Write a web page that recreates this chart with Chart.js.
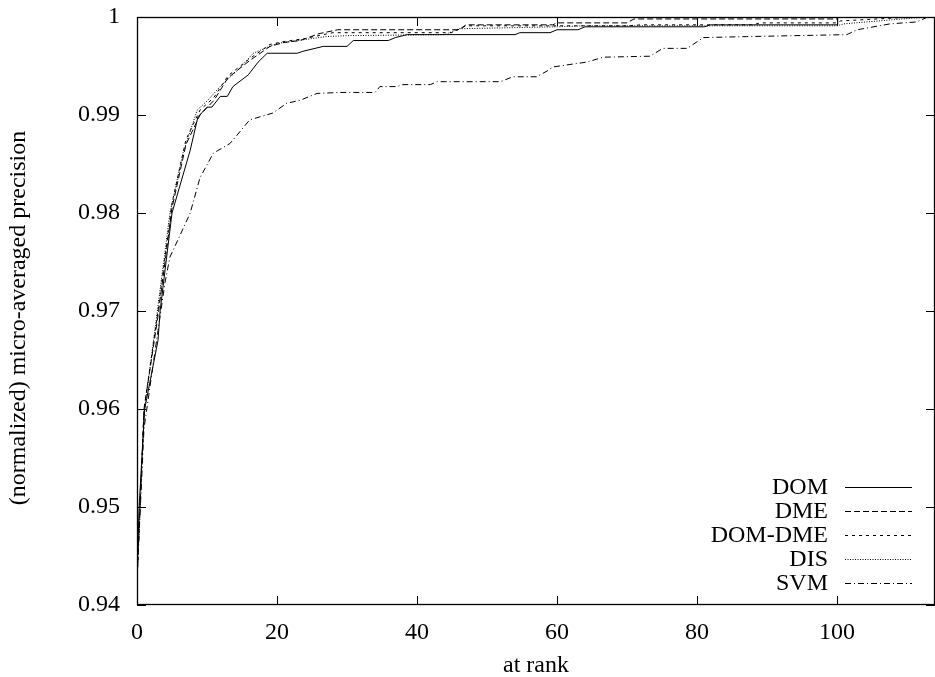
<!DOCTYPE html>
<html>
<head>
<meta charset="utf-8">
<script src="https://cdn.jsdelivr.net/npm/chart.js@4/dist/chart.umd.min.js"></script>
<style>
  body { margin: 0; background: #fff; }
  #wrap { width: 935px; height: 677px; }
</style>
</head>
<body>
<div id="wrap"><canvas id="chart" width="935" height="677"></canvas></div>
<script>
// Series data (rank, precision)
const domX = [0, 0.3, 1.1, 3, 3.3, 5, 7.6, 8.7, 10, 10.7, 11.9, 12.9, 13.7, 15.9, 17.3, 18.6, 22.9, 23.7, 26.6, 30, 30.9, 35.9, 36.9, 38.6, 54, 54.7, 59, 60, 63, 64, 81.1, 81.9, 100, 100.1, 114];
const domY = [0.9426, 0.95, 0.96, 0.967, 0.97, 0.98, 0.9864, 0.9898, 0.9908, 0.9908, 0.9919, 0.9919, 0.9929, 0.9941, 0.9954, 0.9963, 0.9963, 0.9965, 0.997, 0.997, 0.9976, 0.9976, 0.9979, 0.9982, 0.9982, 0.9984, 0.9984, 0.9987, 0.9987, 0.999, 0.999, 0.9992, 0.9992, 1, 1];

const dmeX = [0, 1, 3, 5, 7, 9, 11, 13, 16, 19, 21, 23.3, 26, 28.7, 46, 47, 59.4, 60, 70, 71, 100, 100.2, 114];
const dmeY = [0.9425, 0.96, 0.9695, 0.9805, 0.987, 0.99, 0.9915, 0.9938, 0.9955, 0.997, 0.9974, 0.9976, 0.9983, 0.9987, 0.9987, 0.9992, 0.9992, 0.9994, 0.9994, 0.9998, 0.9998, 1, 1];

const domDmeX = [0, 1, 3, 5, 7, 9, 11, 13, 16, 19, 21, 24, 26.6, 28, 45, 47, 70, 72, 88, 89, 100, 100.5, 111, 114];
const domDmeY = [0.9424, 0.96, 0.97, 0.981, 0.9875, 0.9905, 0.9918, 0.994, 0.9957, 0.9972, 0.9975, 0.9978, 0.9982, 0.9984, 0.9984, 0.9991, 0.9991, 0.9992, 0.9992, 0.9994, 0.9994, 0.9996, 1, 1];

const disX = [0, 1, 3, 4.7, 6.6, 8.6, 10.1, 12, 14.7, 16.6, 18.6, 20, 24, 27, 30, 44, 46, 60, 64, 100, 101, 106, 111, 114];
const disY = [0.9423, 0.9595, 0.9705, 0.98, 0.9862, 0.9905, 0.9915, 0.993, 0.9948, 0.9963, 0.9969, 0.9973, 0.9977, 0.998, 0.9981, 0.9982, 0.9988, 0.999, 0.9991, 0.9991, 0.9993, 0.9996, 0.9999, 1];

const svmX = [0, 1, 3, 4, 4.7, 6, 7.6, 9, 10.9, 13.3, 16.1, 19.4, 21.4, 23.3, 25.7, 29, 34, 34.7, 37.1, 38, 41.9, 42.9, 51.9, 53.7, 57.1, 58.6, 59.4, 62.3, 64.3, 66.6, 73.3, 75.1, 78.6, 80.9, 87.1, 101.4, 102.9, 107.6, 111.4, 113, 114];
const svmY = [0.9425, 0.958, 0.968, 0.9729, 0.9755, 0.9775, 0.98, 0.9836, 0.9861, 0.9871, 0.9895, 0.9902, 0.9912, 0.9915, 0.9922, 0.9923, 0.9923, 0.9929, 0.9929, 0.9931, 0.9931, 0.9934, 0.9934, 0.9939, 0.9939, 0.9945, 0.9949, 0.9952, 0.9954, 0.9959, 0.996, 0.9968, 0.9968, 0.9979, 0.998, 0.9982, 0.9987, 0.9993, 0.9995, 1, 1];

const seriesNames = ['DOM', 'DME', 'DOM-DME', 'DIS', 'SVM'];
const seriesX = [domX, dmeX, domDmeX, disX, svmX];
const seriesY = [domY, dmeY, domDmeY, disY, svmY];
const dashes = [[], [6, 3], [3, 4], [1, 1.5], [6, 3, 1, 3]];

const xTicks = [0, 20, 40, 60, 80, 100];
const yTicks = [0.94, 0.95, 0.96, 0.97, 0.98, 0.99, 1];

const FAMILY = "'Liberation Serif', serif";
const FONT = '24px ' + FAMILY;
Chart.defaults.font.family = FAMILY;

function toPoints(xs, ys) {
    return xs.map((x, i) => ({ x: x, y: ys[i] }));
}

// gnuplot-like frame, inward ticks, legend and axis titles
const framePlugin = {
    id: 'frame',
    afterDraw(chart) {
        const ctx = chart.ctx;
        const a = chart.chartArea;
        const xs = chart.scales.x;
        const ys = chart.scales.y;
        ctx.save();
        ctx.strokeStyle = '#000';
        ctx.lineWidth = 1.3;
        ctx.setLineDash([]);
        ctx.strokeRect(a.left + 0.5, a.top + 0.5, a.right - a.left - 1, a.bottom - a.top - 1);

        ctx.lineWidth = 1;
        ctx.beginPath();
        xTicks.forEach(v => {
            const px = Math.round(xs.getPixelForValue(v)) + 0.5;
            ctx.moveTo(px, a.bottom);
            ctx.lineTo(px, a.bottom - 9);
            ctx.moveTo(px, a.top);
            ctx.lineTo(px, a.top + 9);
        });
        yTicks.forEach(v => {
            const py = Math.round(ys.getPixelForValue(v)) + 0.5;
            ctx.moveTo(a.left, py);
            ctx.lineTo(a.left + 9, py);
            ctx.moveTo(a.right, py);
            ctx.lineTo(a.right - 9, py);
        });
        ctx.stroke();

        // legend
        ctx.font = FONT;
        ctx.fillStyle = '#000';
        ctx.textAlign = 'right';
        ctx.textBaseline = 'middle';
        seriesNames.forEach((name, i) => {
            const y = 487 + i * 24;
            ctx.fillText(name, 828, y + 1);
            ctx.setLineDash(dashes[i]);
            ctx.beginPath();
            ctx.moveTo(845, Math.round(y) + 0.5);
            ctx.lineTo(912, Math.round(y) + 0.5);
            ctx.stroke();
        });
        ctx.setLineDash([]);

        // axis titles
        ctx.textAlign = 'center';
        ctx.fillText('at rank', (a.left + a.right) / 2, 666);
        ctx.translate(19, 318);
        ctx.rotate(-Math.PI / 2);
        ctx.fillText('(normalized) micro-averaged precision', 0, 0);
        ctx.restore();
    }
};

const ctx = document.getElementById('chart').getContext('2d');
const chart = new Chart(ctx, {
    type: 'line',
    data: {
        datasets: seriesNames.map((name, i) => ({
            label: name,
            data: toPoints(seriesX[i], seriesY[i]),
            borderColor: '#000',
            borderWidth: 1,
            borderDash: dashes[i],
            pointRadius: 0,
            tension: 0,
            fill: false
        }))
    },
    options: {
        responsive: false,
        animation: false,
        layout: { padding: { top: 17, right: 0, left: 0, bottom: 0 } },
        plugins: {
            legend: { display: false },
            tooltip: { enabled: false }
        },
        scales: {
            x: {
                type: 'linear',
                min: 0,
                max: 114,
                grid: { display: false, drawTicks: false },
                border: { display: false },
                afterFit: s => { s.height = 72; s.paddingLeft = 0; s.paddingRight = 0; },
                afterBuildTicks: s => { s.ticks = xTicks.map(v => ({ value: v })); },
                ticks: {
                    font: { family: FAMILY, size: 24 },
                    color: '#000',
                    padding: 13,
                    maxRotation: 0,
                    callback: v => String(v)
                }
            },
            y: {
                type: 'linear',
                min: 0.94,
                max: 1,
                grid: { display: false, drawTicks: false },
                border: { display: false },
                afterFit: s => { s.width = 137; s.paddingTop = 0; s.paddingBottom = 0; },
                afterBuildTicks: s => { s.ticks = yTicks.map(v => ({ value: v })); },
                ticks: {
                    font: { family: FAMILY, size: 24 },
                    color: '#000',
                    padding: 17,
                    callback: v => String(+v.toFixed(2))
                }
            }
        }
    },
    plugins: [framePlugin]
});
</script>
</body>
</html>
